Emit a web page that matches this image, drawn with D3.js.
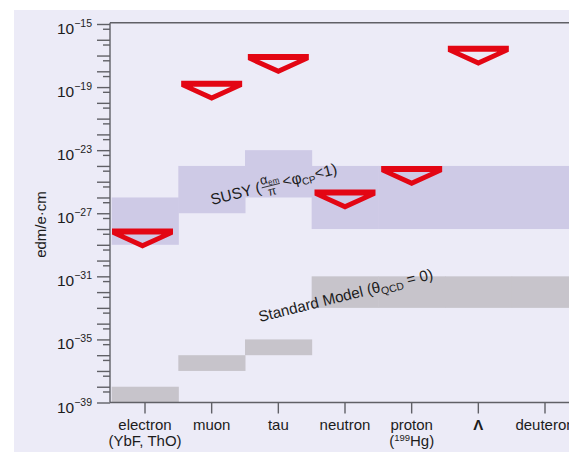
<!DOCTYPE html>
<html><head><meta charset="utf-8">
<script src="https://cdn.jsdelivr.net/npm/d3@7"></script>
<style>
body{margin:0;background:#fff;}
svg{display:block;}
text{font-family:"Liberation Sans Narrow","Liberation Sans",Arial,sans-serif;fill:#1c1c1c;}
</style></head><body>
<svg id="chart" width="569" height="452"></svg>
<script>
// Particle categories along the x axis
const categories = ["electron", "muon", "tau", "neutron", "proton", "\u039B", "deuteron"];
// Second line under some category names: [before, superscript, after]
const subLabels = [["(YbF, ThO)", "", ""], null, null, null, ["(", "199", "Hg)"], null, null];
// Experimental upper limits on the EDM (e·cm); null = no limit drawn
const limits = [7e-29, 1.6e-19, 8e-18, 2.1e-26, 6.3e-25, 2.7e-17, null];
// SUSY prediction band (upper / lower edge)
const susyHigh = [1e-26, 1e-24, 1e-23, 1e-24, 1e-24, 1e-24, 1e-24];
const susyLow  = [1e-29, 1e-27, 1e-26, 1e-28, 1e-28, 1e-28, 1e-28];
// Standard Model prediction band (upper / lower edge)
const smHigh = [1e-38, 1e-36, 1e-35, 1e-31, 1e-31, 1e-31, 1e-31];
const smLow  = [1e-40, 1e-37, 1e-36, 1e-33, 1e-33, 1e-33, 1e-33];
// Exponents that carry a tick label on the y axis
const labelExponents = [-15, -19, -23, -27, -31, -35, -39];

const W = 569, H = 452;
const plotLeft = 110, plotTop = 22.7, plotRight = 600;
const colors = {bg: "#ECEBF7", susy: "#CECAE6", sm: "#C7C4CB", red: "#E30613", axis: "#606066"};

const svg = d3.select("#chart");
svg.append("rect").attr("x", 14).attr("y", 10).attr("width", W - 14).attr("height", H - 10).attr("fill", colors.bg);

const x = d3.scaleBand().domain(categories).range([111.67, 578.33]).paddingInner(0).paddingOuter(0);
const y = d3.scaleLog().domain([1e-39, 1e-15]).range([402.5, 24]);
const cx = c => x(c) + x.bandwidth() / 2;
const plotBottom = y(1e-39);

svg.append("clipPath").attr("id", "plotclip").append("rect")
  .attr("x", plotLeft).attr("y", plotTop).attr("width", plotRight - plotLeft).attr("height", plotBottom - plotTop);
const plot = svg.append("g").attr("clip-path", "url(#plotclip)");

function bands(high, low, fill) {
  plot.append("g").selectAll("rect").data(categories).join("rect")
    .attr("x", c => Math.max(plotLeft, x(c)))
    .attr("width", c => x(c) + x.bandwidth() - Math.max(plotLeft, x(c)) + 0.5)
    .attr("y", (c, i) => y(high[i]))
    .attr("height", (c, i) => y(low[i]) - y(high[i]))
    .attr("fill", fill);
}
bands(susyHigh, susyLow, colors.susy);
bands(smHigh, smLow, colors.sm);

// Limit markers: open downward triangle, horizontal bar centred on the limit
const marker = "M-30.5,-3H30.5V3L0,17L-30.5,3Z M-19,3H19L0,11.5Z";
plot.append("g").selectAll("path").data(categories.map((c, i) => ({c, v: limits[i]})).filter(d => d.v != null))
  .join("path")
  .attr("transform", d => `translate(${cx(d.c) - (d.c === "electron" ? 2.5 : 0)},${y(d.v)})`)
  .attr("d", marker)
  .attr("fill", colors.red)
  .attr("fill-rule", "evenodd");

// Frame lines
const frame = svg.append("g").attr("stroke", colors.axis).attr("stroke-width", 1.4).attr("fill", "none");
frame.append("line").attr("x1", plotLeft).attr("x2", W).attr("y1", plotTop).attr("y2", plotTop);
frame.append("line").attr("x1", plotLeft).attr("x2", plotLeft).attr("y1", plotTop).attr("y2", plotBottom);
frame.append("line").attr("x1", plotLeft).attr("x2", W).attr("y1", plotBottom).attr("y2", plotBottom);

// Y axis: decade ticks and 5x ticks
const decades = d3.range(-39, -14).map(e => Number("1e" + e));
const fives = d3.range(-39, -15).map(e => Number("5e" + e));
const yAxisMajor = svg.append("g").attr("transform", `translate(${plotLeft},0)`)
  .call(d3.axisLeft(y).tickValues(decades).tickSize(13).tickFormat(""));
const yAxisMinor = svg.append("g").attr("transform", `translate(${plotLeft},0)`)
  .call(d3.axisLeft(y).tickValues(fives).tickSize(7).tickFormat(""));
[yAxisMajor, yAxisMinor].forEach(g => {
  g.select(".domain").remove();
  g.selectAll(".tick line").attr("stroke", colors.axis).attr("stroke-width", 1.4);
});

const yl = svg.append("g");
labelExponents.forEach(e => {
  const t = yl.append("text").attr("x", 92).attr("y", y(Number("1e" + e)) + 10)
    .attr("text-anchor", "end").attr("font-size", 15.5);
  t.append("tspan").text("10");
  t.append("tspan").attr("font-size", 10.5).attr("dy", -7).text("\u2212" + Math.abs(e));
});

svg.append("text").attr("transform", "translate(46,224.5) rotate(-90)")
  .attr("text-anchor", "middle").attr("font-size", 15).text("edm/e\u00B7cm");

// X axis
const xAxis = svg.append("g").attr("transform", `translate(0,${plotBottom})`)
  .call(d3.axisBottom(x).tickSize(11).tickFormat(""));
xAxis.select(".domain").remove();
xAxis.selectAll(".tick line").attr("stroke", colors.axis).attr("stroke-width", 1.4);

categories.forEach((c, i) => {
  const g = svg.append("g").attr("transform", `translate(${cx(c)},0)`);
  const t = g.append("text").attr("y", 430).attr("text-anchor", "middle").attr("font-size", 15);
  if (c === "\u039B") t.attr("font-family", "'Liberation Serif', serif").attr("font-weight", "bold").attr("font-size", 15);
  t.text(c);
  const s = subLabels[i];
  if (s) {
    const t2 = g.append("text").attr("y", 446).attr("text-anchor", "middle").attr("font-size", 15);
    t2.append("tspan").text(s[0]);
    if (s[1]) {
      t2.append("tspan").attr("font-size", 9.5).attr("dy", -5).text(s[1]);
      t2.append("tspan").attr("dy", 5).text(s[2]);
    }
  }
});

// SUSY band label
const sl = svg.append("g").attr("transform", "translate(212,205) rotate(-14)");
let cur = 0;
const s1 = sl.append("text").attr("font-size", 15.5).text("SUSY (");
cur += s1.node().getComputedTextLength() + 1;
const num = sl.append("text").attr("x", cur).attr("y", -7.5).attr("font-size", 13);
num.append("tspan").text("\u03B1");
num.append("tspan").attr("font-size", 8).attr("dy", 2).text("em");
const fw = num.node().getComputedTextLength();
sl.append("line").attr("x1", cur).attr("x2", cur + fw).attr("y1", -4.6).attr("y2", -4.6)
  .attr("stroke", "#1c1c1c").attr("stroke-width", 0.8);
sl.append("text").attr("x", cur + fw / 2).attr("y", 5).attr("text-anchor", "middle").attr("font-size", 12).text("\u03C0");
cur += fw + 3;
const s2 = sl.append("text").attr("x", cur).attr("font-size", 15.5);
s2.append("tspan").text("<\u03C6");
s2.append("tspan").attr("font-size", 10).attr("dy", 3).text("CP");
s2.append("tspan").attr("dy", -3).text("<1)");

// Standard Model band label
const ml = svg.append("text").attr("transform", "translate(260,322) rotate(-14)").attr("font-size", 15.2);
ml.append("tspan").text("Standard Model (\u03B8");
ml.append("tspan").attr("font-size", 10.5).attr("dy", 3).text("QCD");
ml.append("tspan").attr("dy", -3).text(" = 0)");
</script>
</body></html>
